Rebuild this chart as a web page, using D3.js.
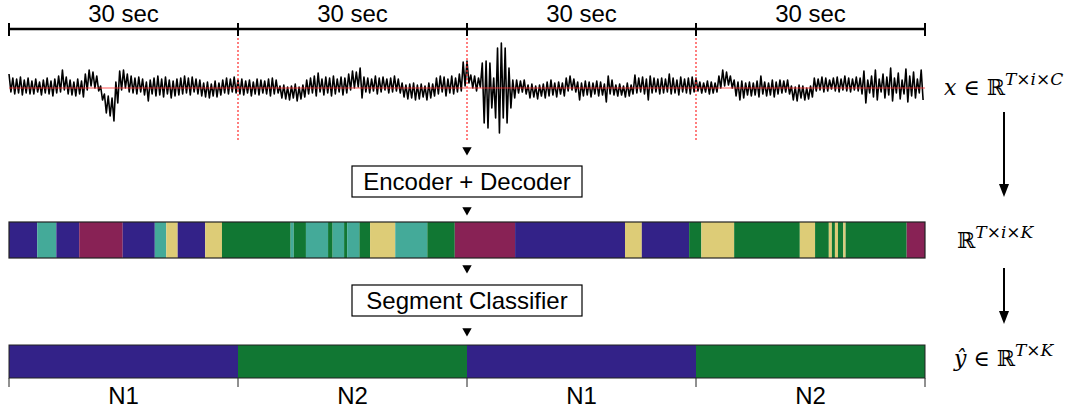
<!DOCTYPE html>
<html>
<head>
<meta charset="utf-8">
<script src="https://cdn.jsdelivr.net/npm/d3@7"></script>
<style>
  html, body { margin: 0; padding: 0; background: #fff; }
  svg { display: block; font-family: "Liberation Sans", Arial, sans-serif; }
  .math { font-family: "DejaVu Serif", "Liberation Serif", serif; }
</style>
</head>
<body>
<svg width="1068" height="408"></svg>
<script>
// epochs (seconds) and labels
const epochBounds = [0, 30, 60, 90, 120];
const epochLabels = ['30 sec', '30 sec', '30 sec', '30 sec'];
const stageLabels = ['N1', 'N2', 'N1', 'N2'];
const stageClass = [0, 4, 0, 4];

// signal envelope, one hi/lo pair every 0.5 s (amplitude, arbitrary units)
const sigHi = [
  14, 10, 9, 11, 8, 10, 7, 9, 6, 8, 10, 7, 9, 12, 18, 11, 8, 6, 9, 7,
  14, 18, 16, 12, 2, -6, -8, -10, 6, 17, 18, 14, 12, 10, 11, 9, 6, 8, 10, 12,
  9, 11, 8, 7, 9, 10, 12, 10, 11, 9, 8, 5, 6, 4, 7, 5, 8, 10, 9, 11,
  8, 9, 7, 8, 6, 9, 8, 7, 9, 10, 8, 2, 3, 1, 2, 4, 1, 3, 8, 10,
  12, 15, 9, 11, 10, 12, 9, 11, 10, 14, 17, 16, 20, 11, 10, 9, 12, 10, 11, 9,
  10, 12, 9, 5, 3, 4, 5, 3, 4, 2, 5, 4, 10, 12, 11, 9, 12, 10, 14, 26,
  27, 13, 12, 10, 25, 27, 25, 10, 40, 45, 40, 20, 8, 8, 7, 8, 3, 4, 2, 3,
  4, 6, 8, 5, 6, 5, 10, 12, 9, 6, 5, 7, 6, 5, 7, 6, 4, 12, 8, 3,
  4, 2, 5, 3, 13, 10, 11, 9, 12, 10, 9, 10, 9, 14, 10, 8, 11, 9, 10, 11,
  10, 6, 5, 7, 6, 5, 12, 18, 16, 12, 8, 6, 7, 5, 6, 5, 7, 12, 6, 5,
  8, 6, 8, 7, 8, 2, 1, 3, 2, 0, 2, 10, 9, 11, 10, 8, 10, 11, 9, 12,
  10, 9, 11, 10, 17, 8, 12, 18, 9, 14, 11, 20, 10, 15, 8, 19, 12, 16, 9, 18
];
const sigLo = [
  -4, -6, -5, -7, -5, -6, -6, -4, -7, -5, -6, -8, -5, -4, -2, -6, -7, -8, -6, -9,
  -2, 2, 0, -3, -12, -25, -28, -33, -15, -2, 0, -4, -5, -6, -4, -7, -13, -6, -8, -7,
  -9, -6, -10, -8, -7, -6, -5, -7, -4, -6, -8, -9, -10, -8, -9, -7, -5, -6, -4, -5,
  -6, -7, -5, -8, -6, -7, -5, -6, -8, -6, -5, -10, -11, -12, -10, -13, -11, -9, -6, -5,
  -8, -4, -7, -5, -8, -6, -4, -7, -5, -2, 0, 1, -10, -4, -5, -3, -6, -4, -2, -5,
  -4, -3, -5, -9, -11, -10, -12, -11, -9, -12, -10, -8, -6, -4, -8, -5, -6, -4, -3, 2,
  5, 0, -3, 1, -35, -40, -20, -30, -45, -30, -35, -20, -10, -5, -4, -6, -10, -9, -11, -8,
  -10, -8, -7, -9, -6, -8, -3, -2, -4, -12, -8, -7, -9, -6, -8, -7, -14, -6, -7, -8,
  -7, -9, -8, -6, -5, -4, -6, -12, -5, -4, -6, -5, -4, -6, -5, -7, -4, -5, -6, -4,
  -3, -5, -4, -6, -5, -4, 0, 2, 3, 0, -8, -12, -10, -7, -8, -7, -9, -6, -8, -7,
  -9, -6, -5, -4, -6, -12, -13, -10, -12, -11, -9, -3, -2, -4, -3, -1, -3, -4, -2, -3,
  -4, -2, -3, -6, -15, -5, -9, -12, -4, -10, -7, -13, -5, -11, -6, -14, -8, -10, -5, -12
];

// encoder/decoder output: segment start/end (s) and cluster id
const segStart = [0, 3.7, 6.2, 9.2, 14.9, 19.1, 20.6, 22.1, 25.7, 27.9, 36.9, 37.3, 38.9, 41.8, 42.4, 43.9, 44.3, 45.9, 47.3,
  50.6, 54.8, 58.4, 66.3, 80.7, 82.9, 89.1, 90.7, 95.0, 103.6, 105.6, 107.4, 107.8, 108.2, 108.6, 109.3, 109.6, 117.6];
const segEnd = [3.7, 6.2, 9.2, 14.9, 19.1, 20.6, 22.1, 25.7, 27.9, 36.9, 37.3, 38.9, 41.8, 42.4, 43.9, 44.3, 45.9, 47.3, 50.6,
  54.8, 58.4, 66.3, 80.7, 82.9, 89.1, 90.7, 95.0, 103.6, 105.6, 107.4, 107.8, 108.2, 108.6, 109.3, 109.6, 117.6, 120];
const segClass = [0, 1, 0, 2, 0, 1, 3, 0, 3, 4, 1, 4, 1, 4, 1, 4, 1, 4, 3,
  1, 4, 2, 0, 3, 0, 4, 3, 4, 3, 4, 3, 4, 3, 4, 3, 4, 2];

const classColors = ['#332288', '#44AA99', '#882255', '#DDCC77', '#117733'];

const svg = d3.select('svg');

const x = d3.scaleLinear().domain([0, 120]).range([9, 925]);
const y = d3.scaleLinear().domain([-50, 50]).range([138, 38]);
const color = d3.scaleOrdinal().domain(d3.range(5)).range(classColors);

// ---- top timeline
svg.append('line')
  .attr('x1', x(0)).attr('x2', x(120)).attr('y1', 29).attr('y2', 29)
  .attr('stroke', '#000').attr('stroke-width', 2.5);
svg.selectAll('.tl-tick').data(epochBounds).enter().append('line')
  .attr('class', 'tl-tick')
  .attr('x1', d => x(d)).attr('x2', d => x(d))
  .attr('y1', 23).attr('y2', 36)
  .attr('stroke', '#000').attr('stroke-width', 2);
svg.selectAll('.tl-label').data(epochLabels).enter().append('text')
  .attr('class', 'tl-label')
  .attr('x', (d, i) => x((epochBounds[i] + epochBounds[i + 1]) / 2))
  .attr('y', 22)
  .attr('text-anchor', 'middle')
  .attr('font-size', 24)
  .text(d => d);

// ---- signal
const pts = [];
sigHi.forEach((h, k) => {
  pts.push([k * 0.5, h]);
  pts.push([k * 0.5 + 0.25, sigLo[k]]);
});
svg.append('path')
  .datum(pts)
  .attr('fill', 'none')
  .attr('stroke', '#000')
  .attr('stroke-width', 1.6)
  .attr('stroke-linejoin', 'round')
  .attr('d', d3.line().x(d => x(d[0])).y(d => y(d[1])));

svg.append('line')
  .attr('x1', x(0)).attr('x2', x(120)).attr('y1', y(0)).attr('y2', y(0))
  .attr('stroke', '#ff2a2a').attr('stroke-opacity', 0.8).attr('stroke-width', 1);
svg.selectAll('.ep-line').data(epochBounds.slice(1, 4)).enter().append('line')
  .attr('class', 'ep-line')
  .attr('x1', d => x(d)).attr('x2', d => x(d))
  .attr('y1', 38).attr('y2', 140)
  .attr('stroke', '#ff2a2a').attr('stroke-width', 1.2)
  .attr('stroke-dasharray', '2,2');

// ---- small arrows + boxes in the middle
const tri = d3.symbol().type(d3.symbolTriangle).size(38);
[150, 210, 268, 331].forEach(yy => {
  svg.append('path').attr('d', tri)
    .attr('transform', `translate(${x(60)},${yy}) rotate(180)`)
    .attr('fill', '#000');
});

function box(label, top) {
  svg.append('rect')
    .attr('x', 352).attr('y', top).attr('width', 230).attr('height', 31)
    .attr('fill', '#fff').attr('stroke', '#000').attr('stroke-width', 1.2);
  svg.append('text')
    .attr('x', x(60)).attr('y', top + 24)
    .attr('text-anchor', 'middle').attr('font-size', 24)
    .text(label);
}
box('Encoder + Decoder', 166);
box('Segment Classifier', 285);

// ---- segment bar
const segs = segStart.map((s, i) => ({s, e: segEnd[i], c: segClass[i]}));
svg.selectAll('.seg').data(segs).enter().append('rect')
  .attr('class', 'seg')
  .attr('x', d => x(d.s)).attr('width', d => x(d.e) - x(d.s))
  .attr('y', 222).attr('height', 36)
  .attr('fill', d => color(d.c));
svg.append('rect')
  .attr('x', x(0)).attr('y', 222).attr('width', x(120) - x(0)).attr('height', 36)
  .attr('fill', 'none').attr('stroke', '#222').attr('stroke-width', 1.2);

// ---- classifier output bar
const stages = stageLabels.map((l, i) => ({s: epochBounds[i], e: epochBounds[i + 1], c: stageClass[i], l}));
svg.selectAll('.stage').data(stages).enter().append('rect')
  .attr('class', 'stage')
  .attr('x', d => x(d.s)).attr('width', d => x(d.e) - x(d.s))
  .attr('y', 345).attr('height', 33)
  .attr('fill', d => color(d.c));
svg.append('rect')
  .attr('x', x(0)).attr('y', 345).attr('width', x(120) - x(0)).attr('height', 33)
  .attr('fill', 'none').attr('stroke', '#222').attr('stroke-width', 1);
svg.selectAll('.st-tick').data(epochBounds).enter().append('line')
  .attr('class', 'st-tick')
  .attr('x1', d => x(d)).attr('x2', d => x(d))
  .attr('y1', 378).attr('y2', 387)
  .attr('stroke', '#222').attr('stroke-width', 1);
svg.selectAll('.st-label').data(stages).enter().append('text')
  .attr('class', 'st-label')
  .attr('x', d => x((d.s + d.e) / 2)).attr('y', 404)
  .attr('text-anchor', 'middle').attr('font-size', 24)
  .text(d => d.l);

// ---- right-hand math labels
function mathLabel(xx, yy, parts) {
  const t = svg.append('text').attr('class', 'math')
    .attr('x', xx).attr('y', yy).attr('font-size', 22);
  parts.forEach(p => {
    const ts = t.append('tspan').text(p.t);
    if (p.i) ts.attr('font-style', 'italic');
    if (p.sup) ts.attr('font-size', 17).attr('dy', p.dy || 0);
    else if (p.dy) ts.attr('dy', p.dy);
  });
}
mathLabel(944, 95, [
  {t: 'x', i: true}, {t: ' \u2208 '}, {t: '\u211D'},
  {t: 'T', i: true, sup: true, dy: -10}, {t: '\u00D7', sup: true}, {t: 'i', i: true, sup: true},
  {t: '\u00D7', sup: true}, {t: 'C', i: true, sup: true}
]);
mathLabel(957, 248, [
  {t: '\u211D'},
  {t: 'T', i: true, sup: true, dy: -10}, {t: '\u00D7', sup: true}, {t: 'i', i: true, sup: true},
  {t: '\u00D7', sup: true}, {t: 'K', i: true, sup: true}
]);
mathLabel(954, 366, [
  {t: '\u0177', i: true}, {t: ' \u2208 '}, {t: '\u211D'},
  {t: 'T', i: true, sup: true, dy: -10}, {t: '\u00D7', sup: true}, {t: 'K', i: true, sup: true}
]);

function downArrow(xx, y1, y2) {
  svg.append('line').attr('x1', xx).attr('x2', xx).attr('y1', y1).attr('y2', y2 - 10)
    .attr('stroke', '#000').attr('stroke-width', 2);
  svg.append('path')
    .attr('d', `M${xx - 5},${y2 - 13} L${xx + 5},${y2 - 13} L${xx},${y2} Z`)
    .attr('fill', '#000');
}
downArrow(1004, 112, 197);
downArrow(1004, 268, 324);
</script>
</body>
</html>
